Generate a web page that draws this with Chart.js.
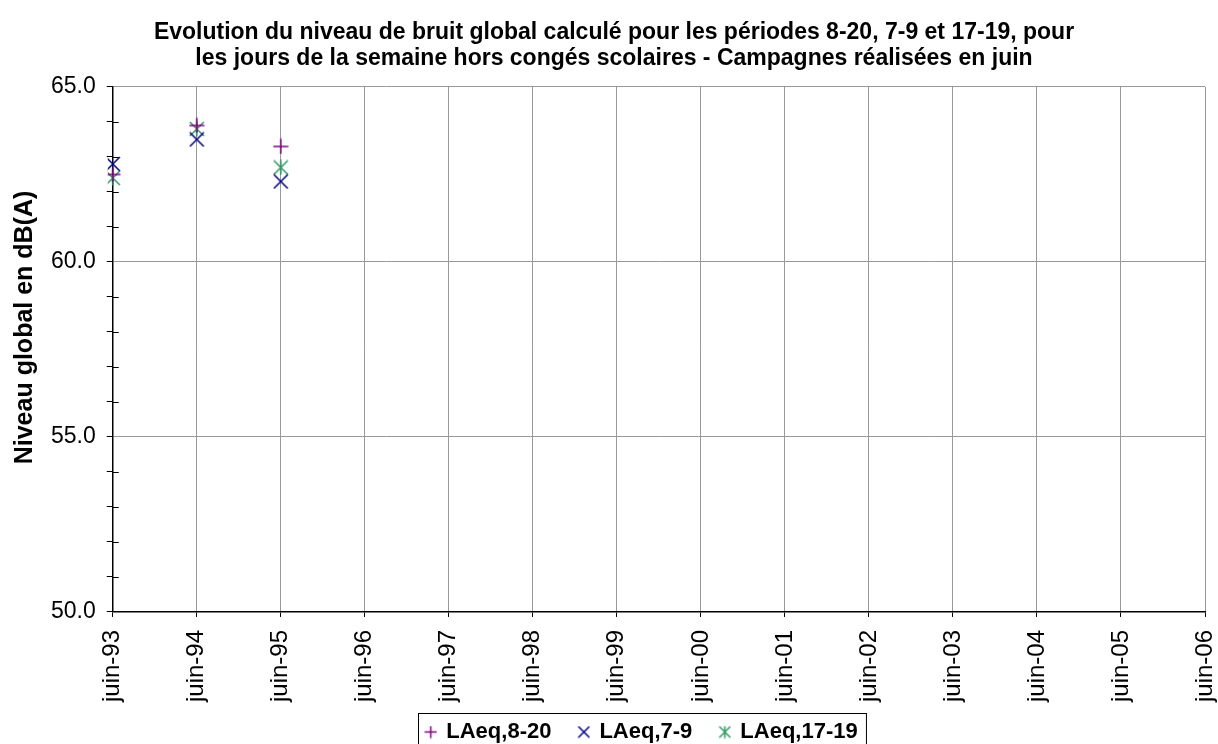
<!DOCTYPE html>
<html>
<head>
<meta charset="utf-8">
<script src="https://cdn.jsdelivr.net/npm/chart.js@4"></script>
<style>
  html, body { margin: 0; padding: 0; background: #fff; overflow: hidden; }
  canvas { display: block; }
</style>
</head>
<body>
<canvas id="graphique" width="1218" height="775"></canvas>
<script>
const campagnes = ["juin-93", "juin-94", "juin-95", "juin-96", "juin-97", "juin-98", "juin-99",
  "juin-00", "juin-01", "juin-02", "juin-03", "juin-04", "juin-05", "juin-06"];
const laeq820 = [62.5, 63.9, 63.3];
const laeq79 = [62.8, 63.5, 62.3];
const laeq1719 = [62.4, 63.8, 62.7];
const yMin = 50, yMax = 65, yMajor = 5;

const police = "'Liberation Sans', Arial, sans-serif";
const violet = "#800080", bleu = "#000080", vert = "#339966";
// décalages : légende et titre de l'axe Y ne sont pas centrés sur l'original
const legendeDx = 28, legendeDy = -22, titreYDy = -22;

// symboles façon Excel (+, x, x barré)
function symbole(forme, couleur, taille) {
  const c = document.createElement("canvas");
  c.width = taille; c.height = taille;
  const g = c.getContext("2d");
  const m = taille / 2, a = 1, b = taille - 1;
  g.strokeStyle = couleur;
  g.lineWidth = 1.5;
  g.beginPath();
  if (forme === "plus" || forme === "etoile") {
    g.moveTo(m, 0.5); g.lineTo(m, taille - 0.5);
  }
  if (forme === "plus") {
    g.moveTo(0.5, m); g.lineTo(taille - 0.5, m);
  }
  if (forme === "x" || forme === "etoile") {
    g.moveTo(a, a); g.lineTo(b, b);
    g.moveTo(b, a); g.lineTo(a, b);
  }
  g.stroke();
  return c;
}
const symbolesLegende = [symbole("plus", violet, 13), symbole("x", bleu, 13), symbole("etoile", vert, 13)];

const cadreLegende = {
  id: "cadreLegende",
  afterInit(chart) {
    const legend = chart.legend;
    const drawOrig = legend.draw.bind(legend);
    legend.draw = function (area) {
      const ctx = chart.ctx;
      ctx.save();
      ctx.translate(legendeDx, legendeDy);
      drawOrig(area);
      ctx.restore();
    };
  },
  beforeDraw(chart) {
    const s = chart.scales.y;
    if (s && !s._titreDecale) {
      const orig = s.drawTitle.bind(s);
      s.drawTitle = function () {
        chart.ctx.save();
        chart.ctx.translate(0, titreYDy);
        orig();
        chart.ctx.restore();
      };
      s._titreDecale = true;
    }
  },
  afterDraw(chart) {
    const ctx = chart.ctx;
    const boxes = chart.legend.legendHitBoxes;
    if (boxes && boxes.length) {
      const left = Math.min(...boxes.map(b => b.left)) - 8.5 + legendeDx;
      const right = Math.max(...boxes.map(b => b.left + b.width)) + 8 + legendeDx;
      const top = Math.min(...boxes.map(b => b.top)) - 8 + legendeDy;
      const bottom = Math.max(...boxes.map(b => b.top + b.height)) + 8 + legendeDy;
      ctx.save();
      ctx.strokeStyle = "#000";
      ctx.lineWidth = 1;
      ctx.strokeRect(Math.round(left) + 0.5, Math.round(top) + 0.5, right - left, bottom - top);
      ctx.restore();
    }
    // graduations secondaires qui traversent l'axe Y
    const y = chart.scales.y;
    ctx.save();
    ctx.strokeStyle = "#000";
    ctx.lineWidth = 1;
    for (let v = yMin; v <= yMax; v++) {
      if (v % yMajor === 0) continue;
      const py = Math.round(y.getPixelForValue(v)) + 0.5;
      ctx.beginPath();
      ctx.moveTo(y.right, py);
      ctx.lineTo(y.right + 6, py);
      ctx.stroke();
    }
    ctx.restore();
  }
};

new Chart(document.getElementById("graphique"), {
  type: "line",
  data: {
    labels: campagnes,
    datasets: [
      { label: "LAeq,8-20", data: laeq820, showLine: false, pointStyle: symbole("plus", violet, 16),
        borderColor: violet, backgroundColor: violet },
      { label: "LAeq,7-9", data: laeq79, showLine: false, pointStyle: symbole("x", bleu, 16),
        borderColor: bleu, backgroundColor: bleu },
      { label: "LAeq,17-19", data: laeq1719, showLine: false, pointStyle: symbole("etoile", vert, 16),
        borderColor: vert, backgroundColor: vert }
    ]
  },
  options: {
    responsive: false,
    animation: false,
    layout: { padding: { left: 10, right: 0, top: 0, bottom: 0 } },
    plugins: {
      title: {
        display: true,
        text: ["Evolution du niveau de bruit global calculé pour les périodes 8-20, 7-9 et 17-19, pour",
               "les jours de la semaine hors congés scolaires - Campagnes réalisées en juin"],
        color: "#000",
        font: { family: police, size: 23, weight: "bold", lineHeight: 1.13 },
        padding: { top: 20, bottom: 15 }
      },
      legend: {
        position: "bottom",
        labels: {
          color: "#000",
          font: { family: police, size: 22, weight: "bold" },
          usePointStyle: true,
          boxWidth: 9,
          boxHeight: 8.5,
          padding: 28,
          generateLabels(chart) {
            const items = Chart.defaults.plugins.legend.labels.generateLabels(chart);
            items.forEach((it, i) => { it.pointStyle = symbolesLegende[i]; });
            return items;
          }
        }
      },
      tooltip: { enabled: false }
    },
    scales: {
      x: {
        type: "category",
        offset: false,
        grid: { color: "#999", offset: false, tickLength: 5, tickColor: "#000" },
        border: { color: "#000", width: 1.5 },
        ticks: {
          color: "#000",
          font: { family: police, size: 24 },
          maxRotation: 90,
          minRotation: 90,
          autoSkip: false,
          padding: 13
        },
        afterFit(scale) {
          scale.paddingRight = 13;
        }
      },
      y: {
        min: yMin,
        max: yMax,
        grid: {
          color: ctx => (ctx.tick && ctx.tick.value % yMajor === 0 ? "#999" : "rgba(0,0,0,0)"),
          tickColor: "#000",
          tickLength: 6
        },
        border: { color: "#000", width: 1.5 },
        ticks: {
          stepSize: 1,
          autoSkip: false,
          color: "#000",
          font: { family: police, size: 23 },
          padding: 11,
          callback: v => (v % yMajor === 0 ? v.toFixed(1) : "")
        },
        title: {
          display: true,
          text: "Niveau global en dB(A)",
          color: "#000",
          font: { family: police, size: 25, weight: "bold" },
          padding: { top: 0, bottom: 0 }
        }
      }
    }
  },
  plugins: [cadreLegende]
});
</script>
</body>
</html>
